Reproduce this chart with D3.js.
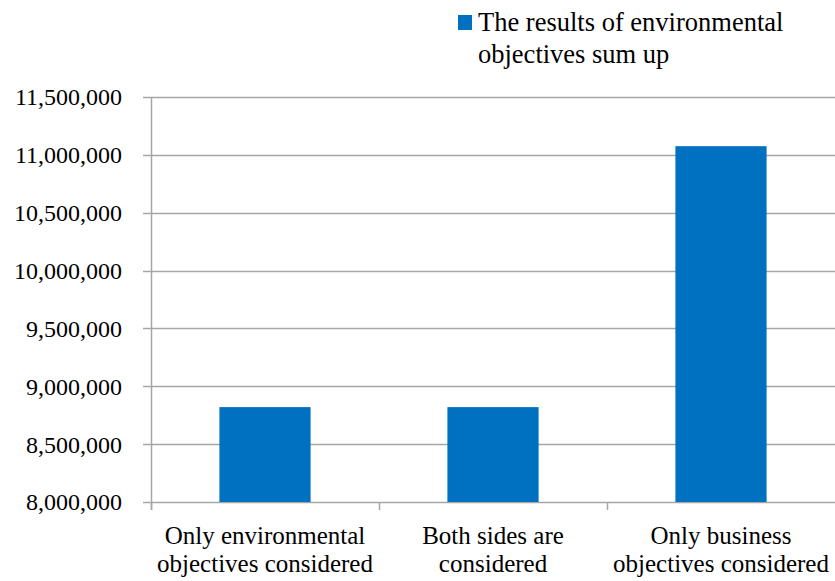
<!DOCTYPE html>
<html>
<head>
<meta charset="utf-8">
<script src="https://cdn.jsdelivr.net/npm/d3@7"></script>
<style>
  body { margin: 0; background: #fff; }
</style>
</head>
<body>
<div id="chart"></div>
<script>
var categories = [
  ["Only environmental", "objectives considered"],
  ["Both sides are", "considered"],
  ["Only business", "objectives considered"]
];
var values = [8820000, 8820000, 11075000];
var seriesName = ["The results of environmental", "objectives sum up"];
var yTicks = [8000000, 8500000, 9000000, 9500000, 10000000, 10500000, 11000000, 11500000];

var width = 835, height = 581;
var margin = {left: 151, right: 0, top: 97, bottom: 79};
var serif = "'Times New Roman', 'Liberation Serif', 'DejaVu Serif', serif";

var svg = d3.select("#chart").append("svg")
    .attr("width", width)
    .attr("height", height)
    .style("font-family", serif);

var x = d3.scaleBand()
    .domain(d3.range(categories.length))
    .range([margin.left, width - margin.right])
    .paddingInner(0.6)
    .paddingOuter(0.3);

var y = d3.scaleLinear()
    .domain([8000000, 11500000])
    .range([height - margin.bottom, margin.top]);

var grey = "#a6a6a6";
var fmt = d3.format(",");

// gridlines
svg.append("g")
  .selectAll("line")
  .data(yTicks)
  .enter().append("line")
    .attr("x1", margin.left - 8)
    .attr("x2", width)
    .attr("y1", function(d) { return Math.round(y(d)) + 0.5; })
    .attr("y2", function(d) { return Math.round(y(d)) + 0.5; })
    .attr("stroke", grey)
    .attr("stroke-width", 1.5);

// y labels
svg.append("g")
  .selectAll("text")
  .data(yTicks)
  .enter().append("text")
    .attr("x", 122)
    .attr("y", function(d) { return y(d); })
    .attr("dy", "0.35em")
    .attr("text-anchor", "end")
    .style("font-size", "24px")
    .text(function(d) { return fmt(d); });

// bars
svg.append("g")
  .selectAll("rect")
  .data(values)
  .enter().append("rect")
    .attr("x", function(d, i) { return x(i); })
    .attr("width", x.bandwidth())
    .attr("y", function(d) { return y(d); })
    .attr("height", function(d) { return y(8000000) - y(d); })
    .attr("fill", "#0070c0");

// y axis line
svg.append("line")
  .attr("x1", margin.left + 0.5).attr("x2", margin.left + 0.5)
  .attr("y1", margin.top).attr("y2", height - margin.bottom + 8)
  .attr("stroke", grey).attr("stroke-width", 1.5);

// category ticks
var step = x.step();
var bandEdges = d3.range(categories.length).map(function(i) { return x(i) - x.paddingOuter() * step; });
svg.append("g")
  .selectAll("line")
  .data(bandEdges)
  .enter().append("line")
    .attr("x1", function(d) { return Math.round(d) + 0.5; })
    .attr("x2", function(d) { return Math.round(d) + 0.5; })
    .attr("y1", height - margin.bottom)
    .attr("y2", height - margin.bottom + 8)
    .attr("stroke", grey)
    .attr("stroke-width", 1.5);

// category labels
var lab = svg.append("g")
  .selectAll("text")
  .data(categories)
  .enter().append("text")
    .attr("text-anchor", "middle")
    .style("font-size", "25px")
    .attr("transform", function(d, i) { return "translate(" + (x(i) + x.bandwidth() / 2) + ",0)"; });
lab.selectAll("tspan")
  .data(function(d) { return d; })
  .enter().append("tspan")
    .attr("x", 0)
    .attr("y", function(d, j) { return 544 + j * 28; })
    .text(function(d) { return d; });

// legend
var leg = svg.append("g");
leg.append("rect")
  .attr("x", 458).attr("y", 15)
  .attr("width", 14).attr("height", 15)
  .attr("fill", "#0070c0");
leg.append("text")
  .style("font-size", "26.5px")
  .selectAll("tspan")
  .data(seriesName)
  .enter().append("tspan")
    .attr("x", 478)
    .attr("y", function(d, j) { return 31 + j * 32; })
    .text(function(d) { return d; });
</script>
</body>
</html>
